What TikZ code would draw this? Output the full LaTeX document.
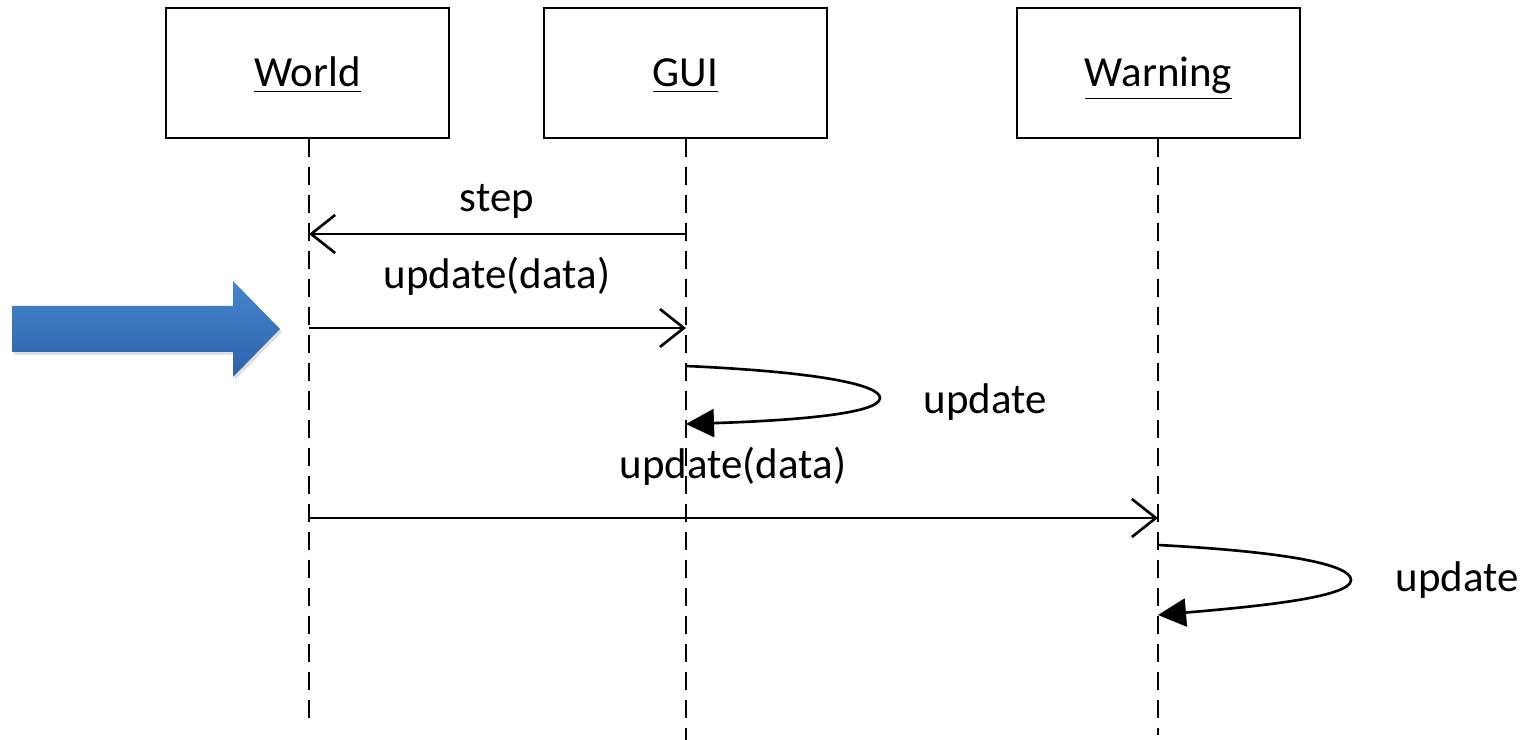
\documentclass[tikz,border=0pt]{standalone}
\usepackage{fontspec}
\setmainfont{Carlito}
\usetikzlibrary{arrows.meta,shadows}
\definecolor{arrtop}{RGB}{68,134,208}
\definecolor{arrbot}{RGB}{46,98,168}
\begin{document}
\begin{tikzpicture}[x=0.01cm,y=-0.01cm,
  obj/.style={draw, line width=0.75pt, minimum width=2.83cm, minimum height=1.30cm, inner sep=0pt, text height=2.1ex, text depth=0.5ex, font=\fontsize{12.2}{14}\selectfont},
  life/.style={line width=0.75pt, dash pattern=on 0.18cm off 0.1cm},
  msg/.style={line width=0.75pt, -{Straight Barb[length=0.24cm, width=0.38cm, line width=0.75pt]}},
  self/.style={line width=0.75pt, -{Triangle[length=0.28cm, width=0.28cm]}},
  lbl/.style={font=\fontsize{12.2}{14}\selectfont, inner sep=0pt}]
\useasboundingbox (0,0) rectangle (1521,740);
% objects
\node[obj] (world) at (307.5,73) {\underline{World}};
\node[obj] (gui) at (685.5,73) {\underline{GUI}};
\node[obj] (warn) at (1158.5,73) {\underline{Warning}};
% lifeline ends
\coordinate (worldEnd) at (309,726);
\coordinate (guiEnd) at (686,740);
\coordinate (warnEnd) at (1158,735);
\draw[life] (world.south -| worldEnd) -- (worldEnd);
\draw[life] (gui.south -| guiEnd) -- (guiEnd);
\draw[life] (warn.south -| warnEnd) -- (warnEnd);
% messages
\coordinate (s1) at (686,234); \coordinate (s2) at (309,234);
\draw[msg] (s1) -- (s2);
\node[lbl] (steplbl) at (497,201) {step};
\coordinate (u1) at (309,328); \coordinate (u2) at (686,328);
\draw[msg] (u1) -- (u2);
\node[lbl] (ud1) at (497,276) {update(data)};
% self loop on GUI
\coordinate (g1) at (686,366); \coordinate (g2) at (686,424);
\draw[self] (g1) .. controls (820,372) and (880,385) .. (880,398) .. controls (880,415) and (780,421) .. (g2);
\node[lbl] (gupd) at (985,402) {update};
\node[lbl] (ud2) at (733,466) {update(data)};
\coordinate (w1) at (309,518); \coordinate (w2) at (1158,518);
\draw[msg] (w1) -- (w2);
% self loop on Warning
\coordinate (h1) at (1158,545); \coordinate (h2) at (1158,615);
\draw[self] (h1) .. controls (1290,552) and (1351,565) .. (1351,580) .. controls (1351,598) and (1250,607) .. (h2);
\node[lbl] (wupd) at (1457,580) {update};
% blue arrow
\shade[top color=arrtop, bottom color=arrbot, drop shadow={shadow xshift=0.02cm, shadow yshift=-0.03cm, opacity=0.25}]
  (12,306) -- (233,306) -- (233,281) -- (280,329) -- (233,377) -- (233,352) -- (12,352) -- cycle;
\end{tikzpicture}
\end{document}
